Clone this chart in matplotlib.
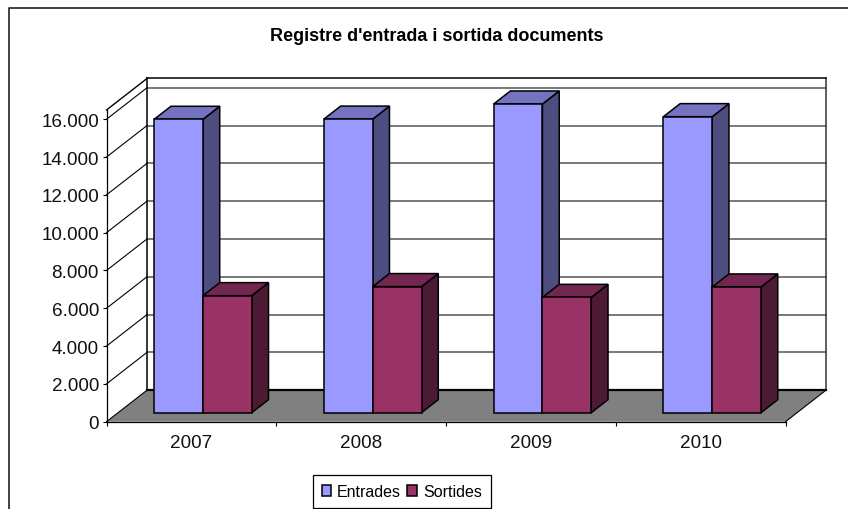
import matplotlib
matplotlib.use("Agg")
import matplotlib.pyplot as plt
from matplotlib.patches import Polygon, Patch
from matplotlib.lines import Line2D

plt.rcParams['font.family'] = ['Liberation Sans', 'DejaVu Sans']

years = ['2007', '2008', '2009', '2010']
entrades = [15520, 15530, 16330, 15660]
sortides = [6190, 6670, 6100, 6650]
y_ticks = [0, 2000, 4000, 6000, 8000, 10000, 12000, 14000, 16000]
y_top = 16490

# 3D look: how far the back wall sits from the front plane, in data units
depth_x = 40.5 / 169.75
depth_y = 1667
bar_front = 0.286
bar_back = 0.70
bar_w = 0.2875
gap = (1 - 2 * bar_w) / 2


def pt(x, v, d):
    return (x + d * depth_x, v + d * depth_y)


fig = plt.figure(figsize=(8.48, 5.10), dpi=100)
ax = fig.add_axes([106.5 / 848, (510 - 422.7) / 510, 679 / 848, (422.7 - 111) / 510])
ax.patch.set_visible(False)
ax.set_xlim(0, 4)
ax.set_ylim(0, y_top)

for s in ['top', 'right']:
    ax.spines[s].set_visible(False)
for s in ['left', 'bottom']:
    ax.spines[s].set_linewidth(0.9)
    ax.spines[s].set_zorder(20)

ax.set_yticks(y_ticks)
ax.set_yticklabels([f'{v:,}'.replace(',', '.') for v in y_ticks], fontsize=13.6, color='#111111')
ax.tick_params(axis='y', length=3.2, width=0.8, pad=2.2)
ax.set_xticks(range(5))
ax.set_xticklabels([])
ax.set_xticks([i + 0.5 for i in range(4)], labels=years, minor=True, fontsize=13.6, color='#111111')
ax.tick_params(axis='x', which='major', length=3.2, width=0.8)
ax.tick_params(axis='x', which='minor', length=0, pad=9)


def face(points, color, z, lw=1.1):
    ax.add_patch(Polygon(points, closed=True, facecolor=color, edgecolor='black',
                         linewidth=lw, joinstyle='miter', clip_on=False, zorder=z))


def line(a, b, color='black', lw=0.8, z=2):
    ax.add_line(Line2D([a[0], b[0]], [a[1], b[1]], color=color, linewidth=lw,
                       clip_on=False, zorder=z))


# back wall and left wall
for v in y_ticks[1:]:
    line(pt(0, v, 1), pt(4, v, 1), color='#555555', lw=1.1, z=1)
    line(pt(0, v, 0), pt(0, v, 1), lw=0.8)
line(pt(0, 0, 1), pt(0, y_top, 1), lw=1.1)
line(pt(4, 0, 1), pt(4, y_top, 1), color='#333333', lw=1.1)
line(pt(0, y_top, 1), pt(4, y_top, 1), lw=1.1)
line(pt(0, y_top, 0), pt(0, y_top, 1), lw=1.0)

# floor
face([pt(0, 0, 0), pt(4, 0, 0), pt(4, 0, 1), pt(0, 0, 1)], '#808080', 3, lw=0)
line(pt(0, 0, 1), pt(4, 0, 1), lw=1.6, z=4)
line(pt(0, 0, 0), pt(0, 0, 1), lw=0.8, z=4)
line(pt(4, 0, 0), pt(4, 0, 1), lw=0.8, z=4)


def bar3d(x, val, front, side, top, z):
    face([pt(x, 0, bar_front), pt(x + bar_w, 0, bar_front),
          pt(x + bar_w, val, bar_front), pt(x, val, bar_front)], front, z + 0.2)
    face([pt(x + bar_w, 0, bar_front), pt(x + bar_w, 0, bar_back),
          pt(x + bar_w, val, bar_back), pt(x + bar_w, val, bar_front)], side, z)
    face([pt(x, val, bar_front), pt(x + bar_w, val, bar_front),
          pt(x + bar_w, val, bar_back), pt(x, val, bar_back)], top, z)


for i in range(len(years)):
    bar3d(i + gap, entrades[i], '#9999FF', '#4D4D80', '#7373BF', 5 + i * 2)
    bar3d(i + gap + bar_w, sortides[i], '#993366', '#4D1A33', '#732650', 6 + i * 2)

# chart area border, only top and left are visible in the crop
fig.add_artist(Line2D([9 / 848, 9 / 848, 1], [0, 1 - 9 / 510, 1 - 9 / 510],
                      color='#333333', linewidth=1.3, transform=fig.transFigure))

fig.text(437 / 848, 1 - 36.5 / 510, "Registre d'entrada i sortida documents",
         ha='center', va='center', fontsize=13, fontweight='bold', color='black')

handles = [Patch(facecolor='#9999FF', edgecolor='black', linewidth=1.1, label='Entrades'),
           Patch(facecolor='#993366', edgecolor='black', linewidth=1.1, label='Sortides')]
leg = fig.legend(handles=handles, loc='center', bbox_to_anchor=(401.7 / 848, 1 - 492.7 / 510),
                 ncol=2, fontsize=11.5, frameon=True, fancybox=False, edgecolor='black',
                 framealpha=1, handlelength=0.62, handleheight=0.62, handletextpad=0.35,
                 columnspacing=0.4, borderpad=0.55, borderaxespad=0)
leg.get_frame().set_linewidth(0.9)

fig.savefig('out.png', dpi=100)
